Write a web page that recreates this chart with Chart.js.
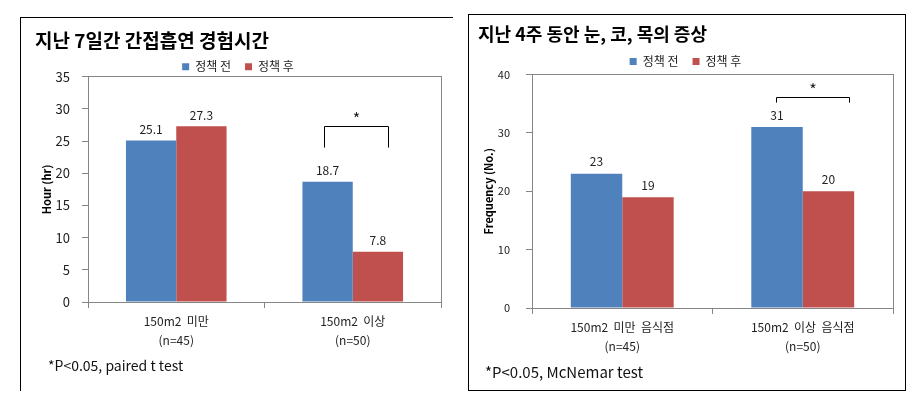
<!DOCTYPE html>
<html>
<head>
<meta charset="utf-8">
<script src="https://cdn.jsdelivr.net/npm/chart.js@4"></script>
<style>
  body { margin: 0; background: #fff; width: 920px; height: 409px; position: relative; overflow: hidden; }
  .box { position: absolute; background: #fff; }
  #boxA { left: 20px; top: 17px; width: 432px; height: 373px; border-top: 1px solid #000; border-left: 1px solid #000; }
  #boxB { left: 468px; top: 14px; width: 436px; height: 375px; border: 1px solid #000; }
  canvas { display: block; }
</style>
</head>
<body>
<div class="box" id="boxA"><canvas id="chartA" width="432" height="373"></canvas></div>
<div class="box" id="boxB"><canvas id="chartB" width="436" height="375"></canvas></div>
<script>
const seriesNames = ['정책 전', '정책 후'];
const seriesColors = ['#4F81BD', '#C0504D'];

// 왼쪽: 지난 7일간 간접흡연 경험시간
const hourGroups = [['150m2  미만', '(n=45)'], ['150m2  이상', '(n=50)']];
const hourBefore = [25.1, 18.7];
const hourAfter = [27.3, 7.8];
const hourMax = 35, hourStep = 5;

// 오른쪽: 지난 4주 동안 눈, 코, 목의 증상
const freqGroups = [['150m2  미만  음식점', '(n=45)'], ['150m2  이상  음식점', '(n=50)']];
const freqBefore = [23, 31];
const freqAfter = [19, 20];
const freqMax = 40, freqStep = 10;

const FONT = '"Noto Sans CJK KR", "Noto Sans", sans-serif';
const AXIS = '#868686';

// value labels, significance bracket, footnote
const extras = {
  id: 'extras',
  afterDatasetsDraw(chart, args, o) {
    const ctx = chart.ctx;
    const y = chart.scales.y;
    ctx.save();
    // value labels
    ctx.fillStyle = '#222';
    ctx.font = o.valueFont + 'px ' + FONT;
    ctx.textAlign = 'center';
    ctx.textBaseline = 'bottom';
    chart.data.datasets.forEach((ds, i) => {
      chart.getDatasetMeta(i).data.forEach((bar, j) => {
        ctx.fillText(String(ds.data[j]), bar.x, bar.y - o.valueGap);
      });
    });
    // bracket
    const b0 = chart.getDatasetMeta(0).data[o.sig.index];
    const b1 = chart.getDatasetMeta(1).data[o.sig.index];
    const x0 = Math.round(b0.x - o.sig.padL) + 0.5;
    const x1 = Math.round(b1.x + o.sig.padR) + 0.5;
    const yt = Math.round(y.getPixelForValue(o.sig.top)) + 0.5;
    const yb = y.getPixelForValue(o.sig.bottom);
    ctx.strokeStyle = '#000';
    ctx.lineWidth = 1;
    ctx.beginPath();
    ctx.moveTo(x0, yb); ctx.lineTo(x0, yt); ctx.lineTo(x1, yt); ctx.lineTo(x1, yb);
    ctx.stroke();
    ctx.font = '16px ' + FONT;
    ctx.textBaseline = 'middle';
    ctx.fillText('*', (x0 + x1) / 2, yt - 8);
    // footnote
    ctx.textAlign = 'left';
    ctx.font = o.noteFont + 'px ' + FONT;
    ctx.fillStyle = '#111';
    ctx.fillText(o.note, o.noteX, o.noteY);
    ctx.restore();
  }
};

function makeChart(id, cfg) {
  return new Chart(document.getElementById(id), {
    type: 'bar',
    data: {
      labels: cfg.labels,
      datasets: [
        { label: seriesNames[0], data: cfg.before, backgroundColor: seriesColors[0], xAxisID: 'x', yAxisID: 'y' },
        { label: seriesNames[1], data: cfg.after, backgroundColor: seriesColors[1], xAxisID: 'x', yAxisID: 'y' }
      ]
    },
    options: {
      responsive: false,
      animation: false,
      layout: { padding: { left: cfg.padLeft, right: cfg.padRight, top: 0, bottom: 0 } },
      datasets: { bar: { barPercentage: 1, categoryPercentage: 0.57 } },
      plugins: {
        title: {
          display: true, text: cfg.title, align: 'start', color: '#000',
          font: { family: FONT, size: cfg.titleSize, weight: 'bold' },
          padding: { top: cfg.titleTop, bottom: cfg.titleBottom }
        },
        legend: {
          display: true, position: 'top', maxHeight: cfg.legendHeight,
          labels: {
            boxWidth: 7, boxHeight: 7, padding: 6, color: '#222',
            font: { family: FONT, size: 12 },
            generateLabels: chart => {
              const items = Chart.defaults.plugins.legend.labels.generateLabels(chart);
              items.forEach((it, i) => { if (i < items.length - 1) it.text += '   '; });
              return items;
            }
          }
        },
        tooltip: { enabled: false },
        extras: cfg.extras
      },
      scales: {
        x: {
          offset: true,
          grid: { offset: true, drawOnChartArea: false, tickLength: 6, color: AXIS },
          border: { color: AXIS },
          ticks: { color: '#222', padding: 4, maxRotation: 0, font: { family: FONT, size: 12, lineHeight: 1.6 } },
          afterFit: s => { s.height = cfg.xHeight; }
        },
        y: {
          min: 0, max: cfg.max,
          grid: { drawOnChartArea: false, tickLength: 6, color: AXIS },
          border: { color: AXIS },
          ticks: { stepSize: cfg.step, color: '#222', padding: cfg.tickPad, font: { family: FONT, size: cfg.tickSize } },
          title: {
            display: true, text: cfg.yTitle, color: '#000',
            font: { family: FONT, size: 11, weight: 'bold' },
            padding: { top: cfg.yTitlePad, bottom: 0 }
          },
          afterFit: s => { s.width = cfg.yWidth; }
        },
        // plot frame: top and right edges
        xTop: {
          type: 'category', position: 'top', offset: true,
          grid: { display: false }, ticks: { display: false },
          border: { display: true, color: AXIS },
          afterFit: s => { s.height = 0; }
        },
        yRight: {
          type: 'linear', position: 'right', min: 0, max: cfg.max,
          grid: { display: false }, ticks: { display: false },
          border: { display: true, color: AXIS },
          afterFit: s => { s.width = 0; }
        }
      }
    },
    plugins: [extras]
  });
}

makeChart('chartA', {
  labels: hourGroups, before: hourBefore, after: hourAfter,
  max: hourMax, step: hourStep,
  title: '지난 7일간 간접흡연 경험시간', titleSize: 19, titleTop: 11, titleBottom: 3,
  legendHeight: 22,
  yTitle: 'Hour (hr)', yTitlePad: 5, tickSize: 13, tickPad: 12,
  padLeft: 14, padRight: 12,
  yWidth: 53, xHeight: 89,
  extras: {
    valueFont: 12, valueGap: 5,
    sig: { index: 1, top: 27.3, bottom: 24, padL: 4, padR: 10 },
    note: '*P<0.05, paired t test', noteFont: 14, noteX: 27, noteY: 348
  }
});

makeChart('chartB', {
  labels: freqGroups, before: freqBefore, after: freqAfter,
  max: freqMax, step: freqStep,
  title: '지난 4주 동안 눈, 코, 목의 증상', titleSize: 18, titleTop: 8, titleBottom: 5,
  legendHeight: 25,
  yTitle: 'Frequency (No.)', yTitlePad: 4, tickSize: 11, tickPad: 16,
  padLeft: 9, padRight: 12,
  yWidth: 54, xHeight: 82,
  extras: {
    valueFont: 12, valueGap: 6,
    sig: { index: 1, top: 36.2, bottom: 35.2, padL: 1, padR: 21 },
    note: '*P<0.05, McNemar test', noteFont: 15, noteX: 16, noteY: 357
  }
});
</script>
</body>
</html>
